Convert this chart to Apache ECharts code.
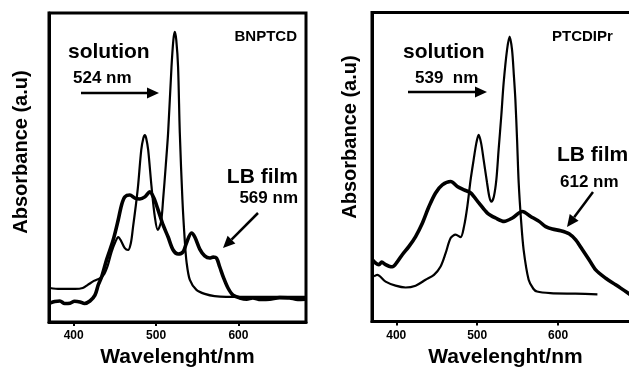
<!DOCTYPE html>
<html>
<head>
<meta charset="utf-8">
<script src="https://cdn.jsdelivr.net/npm/echarts@6/dist/echarts.min.js"></script>
<style>
  html, body { margin: 0; padding: 0; background: #fff; }
  #chart { width: 629px; height: 368px; }
</style>
</head>
<body>
<div id="chart"></div>
<script>
// BNPTCD (left panel)
const bnSolutionNm = [371, 383, 401.5, 411, 417, 424.5, 432, 437, 441.5, 446, 451, 454, 457, 462, 466, 469.4, 472, 475.5, 478, 482, 484.5, 486.4, 488, 490.4, 494.5, 498.5, 502, 506, 508.5, 511.8, 514.6, 518.7, 521, 522.7, 524.5, 526.7, 528.8, 532, 534.8, 537, 541, 549, 559, 571, 601.5, 638, 681];
const bnSolutionAbs = [0.110, 0.107, 0.107, 0.110, 0.120, 0.133, 0.142, 0.155, 0.184, 0.227, 0.262, 0.275, 0.265, 0.239, 0.233, 0.256, 0.307, 0.379, 0.437, 0.557, 0.595, 0.605, 0.595, 0.557, 0.437, 0.340, 0.298, 0.324, 0.395, 0.508, 0.612, 0.825, 0.913, 0.939, 0.913, 0.825, 0.612, 0.395, 0.265, 0.194, 0.136, 0.104, 0.091, 0.084, 0.081, 0.081, 0.081];
const bnFilmNm = [371.2, 377, 383.3, 389, 395.5, 401, 407.6, 413, 419.7, 425.8, 429.8, 433.9, 439.9, 447.9, 454, 458.1, 462.1, 468.2, 474.2, 480.3, 486.4, 492.4, 497.3, 502.5, 508.5, 514.6, 520.7, 526.7, 532.8, 536.9, 543, 547, 553, 559, 565.2, 569.2, 573.3, 577.3, 582.1, 587.3, 593.4, 601.5, 610, 617.3, 627, 637.9, 650, 662, 672, 681.5];
const bnFilmAbs = [0.061, 0.066, 0.068, 0.060, 0.061, 0.067, 0.065, 0.060, 0.068, 0.087, 0.120, 0.146, 0.201, 0.265, 0.330, 0.379, 0.405, 0.411, 0.401, 0.398, 0.405, 0.421, 0.401, 0.362, 0.314, 0.275, 0.233, 0.220, 0.227, 0.256, 0.288, 0.275, 0.236, 0.214, 0.207, 0.210, 0.207, 0.178, 0.142, 0.110, 0.087, 0.078, 0.074, 0.078, 0.073, 0.074, 0.079, 0.078, 0.073, 0.074];

// PTCDIPr (right panel)
const ptSolutionNm = [372.4, 376.5, 386.8, 399.1, 411.5, 423.9, 436.2, 446.6, 454.8, 461, 467.2, 473.3, 479.5, 483.7, 487.8, 491.9, 495.6, 499, 501.8, 504.8, 508, 512.2, 515, 517.5, 520.6, 523.7, 526.5, 529.9, 532.7, 536.9, 540.1, 543.1, 545.3, 547.2, 549.3, 551.3, 554.2, 557.4, 563.6, 569.4, 574, 590.5, 621.4, 648.6];
const ptSolutionAbs = [0.146, 0.151, 0.129, 0.116, 0.110, 0.116, 0.135, 0.151, 0.178, 0.221, 0.270, 0.281, 0.273, 0.307, 0.372, 0.459, 0.523, 0.578, 0.604, 0.578, 0.523, 0.449, 0.404, 0.388, 0.404, 0.459, 0.556, 0.669, 0.772, 0.879, 0.922, 0.879, 0.798, 0.718, 0.588, 0.449, 0.329, 0.232, 0.135, 0.106, 0.097, 0.092, 0.090, 0.088];
const ptFilmNm = [370.4, 374, 378.6, 382, 386.8, 391, 395.1, 401.2, 407.4, 415.7, 423.9, 432.2, 440.4, 448.6, 456.9, 467.2, 475.4, 483.7, 491.9, 502.3, 512.6, 522.8, 533.2, 543.5, 555.8, 566.1, 576.5, 584.7, 592.9, 603.2, 613.6, 621.8, 630.1, 638.3, 646.5, 658.9, 671.2, 683.6, 689.8];
const ptFilmAbs = [0.200, 0.190, 0.184, 0.192, 0.184, 0.179, 0.177, 0.193, 0.216, 0.243, 0.275, 0.318, 0.372, 0.416, 0.442, 0.453, 0.437, 0.426, 0.416, 0.383, 0.351, 0.335, 0.324, 0.335, 0.356, 0.340, 0.324, 0.307, 0.299, 0.294, 0.284, 0.264, 0.232, 0.200, 0.167, 0.140, 0.119, 0.097, 0.086];

const tickValues = [400, 500, 600];

const zip = (xs, ys) => xs.map((x, i) => [x, ys[i]]);
const font = 'Liberation Sans, Arial, sans-serif';

function xAxisFor(gridIndex, max) {
  return {
    type: 'value',
    gridIndex,
    min: 370,
    max,
    name: 'Wavelenght/nm',
    nameLocation: 'middle',
    nameGap: 23,
    nameTextStyle: {color: '#000', fontFamily: font, fontWeight: 'bold', fontSize: 21},
    axisLine: {lineStyle: {color: '#000', width: 3}},
    axisTick: {customValues: tickValues, length: 4, lineStyle: {color: '#000', width: 2}},
    axisLabel: {customValues: tickValues, color: '#000', fontFamily: font, fontWeight: 'bold', fontSize: 12, margin: 8},
    splitLine: {show: false},
  };
}

function yAxisFor(gridIndex) {
  return {
    type: 'value',
    gridIndex,
    min: 0,
    max: 1,
    axisLine: {show: true, lineStyle: {color: '#000', width: 3}},
    axisTick: {show: false},
    axisLabel: {show: false},
    splitLine: {show: false},
  };
}

function line(idx, data, width) {
  return {
    type: 'line',
    xAxisIndex: idx,
    yAxisIndex: idx,
    data,
    smooth: 0.3,
    showSymbol: false,
    silent: true,
    lineStyle: {color: '#000', width},
  };
}

function label(text, x, y, size, align) {
  return {
    type: 'text',
    x, y,
    style: {text, fill: '#000', font: `bold ${size}px ${font}`, align: align || 'left', verticalAlign: 'middle'},
  };
}

function arrow(x1, y1, x2, y2) {
  const ang = Math.atan2(y2 - y1, x2 - x1);
  const len = 12, half = 5.5;
  const bx = x2 - len * Math.cos(ang), by = y2 - len * Math.sin(ang);
  const px = -Math.sin(ang) * half, py = Math.cos(ang) * half;
  return [
    {type: 'line', shape: {x1, y1, x2: bx, y2: by}, style: {stroke: '#000', lineWidth: 2.5}},
    {type: 'polygon', shape: {points: [[x2, y2], [bx + px, by + py], [bx - px, by - py]]}, style: {fill: '#000'}},
  ];
}

const chart = echarts.init(document.getElementById('chart'), null, {renderer: 'canvas'});
chart.setOption({
  animation: false,
  backgroundColor: '#fff',
  grid: [
    {left: 49, top: 13, width: 257, height: 309, show: true, borderColor: '#000', borderWidth: 3, outerBoundsMode: 'none'},
    {left: 372, top: 12.5, width: 267, height: 309, show: true, borderColor: '#000', borderWidth: 3, outerBoundsMode: 'none'},
  ],
  xAxis: [xAxisFor(0, 682), xAxisFor(1, 700)],
  yAxis: [yAxisFor(0), yAxisFor(1)],
  series: [
    line(0, zip(bnSolutionNm, bnSolutionAbs), 2.2),
    line(0, zip(bnFilmNm, bnFilmAbs), 3.6),
    line(1, zip(ptSolutionNm, ptSolutionAbs), 2.2),
    line(1, zip(ptFilmNm, ptFilmAbs), 3.6),
  ],
  graphic: [
    {type: 'text', x: 21, y: 152, rotation: Math.PI / 2,
      style: {text: 'Absorbance (a.u)', fill: '#000', font: `bold 20px ${font}`, align: 'center', verticalAlign: 'middle'}},
    {type: 'text', x: 350, y: 137, rotation: Math.PI / 2,
      style: {text: 'Absorbance (a.u)', fill: '#000', font: `bold 20px ${font}`, align: 'center', verticalAlign: 'middle'}},
    label('BNPTCD', 297, 37, 15, 'right'),
    label('solution', 68, 52, 21),
    label('524 nm', 73, 78, 17),
    ...arrow(81, 93, 159, 93),
    label('LB film', 298, 177, 21, 'right'),
    label('569 nm', 298, 198, 17, 'right'),
    ...arrow(258, 213, 223, 248),
    label('PTCDIPr', 552, 37, 15),
    label('solution', 403, 52, 21),
    label('539  nm', 415, 78, 17),
    ...arrow(408, 92, 487, 92),
    label('LB film', 557, 155, 21),
    label('612 nm', 560, 182, 17),
    ...arrow(593, 192, 567, 227),
  ],
});
</script>
</body>
</html>
